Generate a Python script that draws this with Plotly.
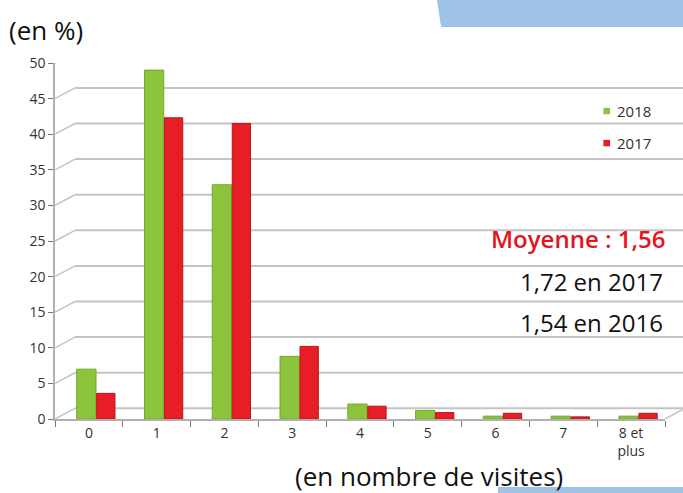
import plotly.graph_objects as go

categories = ["0", "1", "2", "3", "4", "5", "6", "7", "8 et<br>plus"]
values_2018 = [7.0, 49.0, 32.9, 8.8, 2.1, 1.2, 0.4, 0.4, 0.4]
values_2017 = [3.6, 42.3, 41.5, 10.2, 1.8, 0.9, 0.8, 0.3, 0.8]
y_ticks = [0, 5, 10, 15, 20, 25, 30, 35, 40, 45, 50]

GREEN = "#8cc43c"
RED = "#e81e26"

fig = go.Figure()
fig.add_trace(go.Bar(
    x=categories, y=values_2018, name="2018",
    offset=-0.18, width=0.285,
    marker=dict(color=GREEN, line=dict(color="#74a82c", width=1)),
    showlegend=False,
))
fig.add_trace(go.Bar(
    x=categories, y=values_2017, name="2017",
    offset=0.115, width=0.27,
    marker=dict(color=RED, line=dict(color="#bd1219", width=1)),
    showlegend=False,
))

fig.update_layout(
    width=683, height=493,
    margin=dict(l=55, r=18, t=63, b=74),
    paper_bgcolor="white", plot_bgcolor="rgba(0,0,0,0)",
    barmode="overlay",
    font=dict(family="Open Sans", color="#222222"),
    xaxis=dict(
        type="category", showgrid=False, range=[-0.5, 8.5],
        showline=True, linecolor="#b0b0b0", linewidth=1.5,
        ticks="outside", tickson="boundaries", ticklen=6, tickcolor="#777777",
        tickfont=dict(size=14, family="Open Sans", color="#333333"),
    ),
    yaxis=dict(
        range=[0, 50], tickvals=y_ticks,
        showgrid=False,
        showline=True, linecolor="#b0b0b0", linewidth=1.5,
        ticks="outside", ticklen=5, tickcolor="#777777",
        tickfont=dict(size=14, family="Open Sans", color="#333333"),
        zeroline=False,
    ),
    showlegend=False,
)

# 3D-style back-wall gridlines
dx = 20 / 610.0
dy = 1.5
for v in y_ticks:
    fig.add_shape(type="line", xref="paper", yref="y", x0=0, y0=v, x1=dx, y1=v + dy,
                  line=dict(color="#c4c4c4", width=1.5), layer="below")
    fig.add_shape(type="line", xref="paper", yref="y", x0=dx, y0=v + dy, x1=1.05, y1=v + dy,
                  line=dict(color="#c4c4c4", width=2), layer="below")
fig.add_shape(type="line", xref="paper", yref="y", x0=1.0, y0=0, x1=1.0 + dx, y1=dy,
              line=dict(color="#c4c4c4", width=1.5), layer="below")

# legend drawn manually
for yc, col, lab in [(0.865, GREEN, "2018"), (0.775, RED, "2017")]:
    fig.add_shape(type="rect", xref="paper", yref="paper",
                  x0=0.899, x1=0.910, y0=yc - 0.009, y1=yc + 0.009,
                  fillcolor=col, line=dict(width=0))
    fig.add_annotation(text=lab, xref="paper", yref="paper", x=0.918, y=yc,
                       xanchor="left", yanchor="middle", showarrow=False,
                       font=dict(size=15, family="Open Sans", color="#333333"))

# decorative blue blocks
fig.add_shape(type="path", xref="paper", yref="paper",
              path="M 0.626 1.18 L 1.04 1.18 L 1.04 1.101 L 0.633 1.101 Z",
              fillcolor="#9fc3e7", line=dict(width=0), layer="above")
fig.add_shape(type="rect", xref="paper", yref="paper",
              x0=0.726, x1=1.04, y0=-0.215, y1=-0.191,
              fillcolor="#9fc3e7", line=dict(width=0), layer="below")

fig.add_annotation(text="(en %)", xref="paper", yref="paper", x=-0.078, y=1.093,
                   xanchor="left", yanchor="middle", showarrow=False,
                   font=dict(size=26, family="Open Sans", color="#111111"))
fig.add_annotation(text="(en nombre de visites)", xref="paper", yref="paper", x=0.39, y=-0.16,
                   xanchor="left", yanchor="middle", showarrow=False,
                   font=dict(size=26, family="Open Sans", color="#111111"))
fig.add_annotation(text="Moyenne : 1,56", xref="paper", yref="paper", x=1.005, y=0.508,
                   xanchor="right", yanchor="middle", showarrow=False,
                   font=dict(size=24, family="Open Sans", color="#e3141c", weight=600))
fig.add_annotation(text="1,72 en 2017", xref="paper", yref="paper", x=1.0, y=0.385,
                   xanchor="right", yanchor="middle", showarrow=False,
                   font=dict(size=24, family="Open Sans", color="#111111"))
fig.add_annotation(text="1,54 en 2016", xref="paper", yref="paper", x=1.0, y=0.272,
                   xanchor="right", yanchor="middle", showarrow=False,
                   font=dict(size=24, family="Open Sans", color="#111111"))

fig.write_html("out.html", config={"displayModeBar": False},
               post_script="document.body.style.margin='0';")
